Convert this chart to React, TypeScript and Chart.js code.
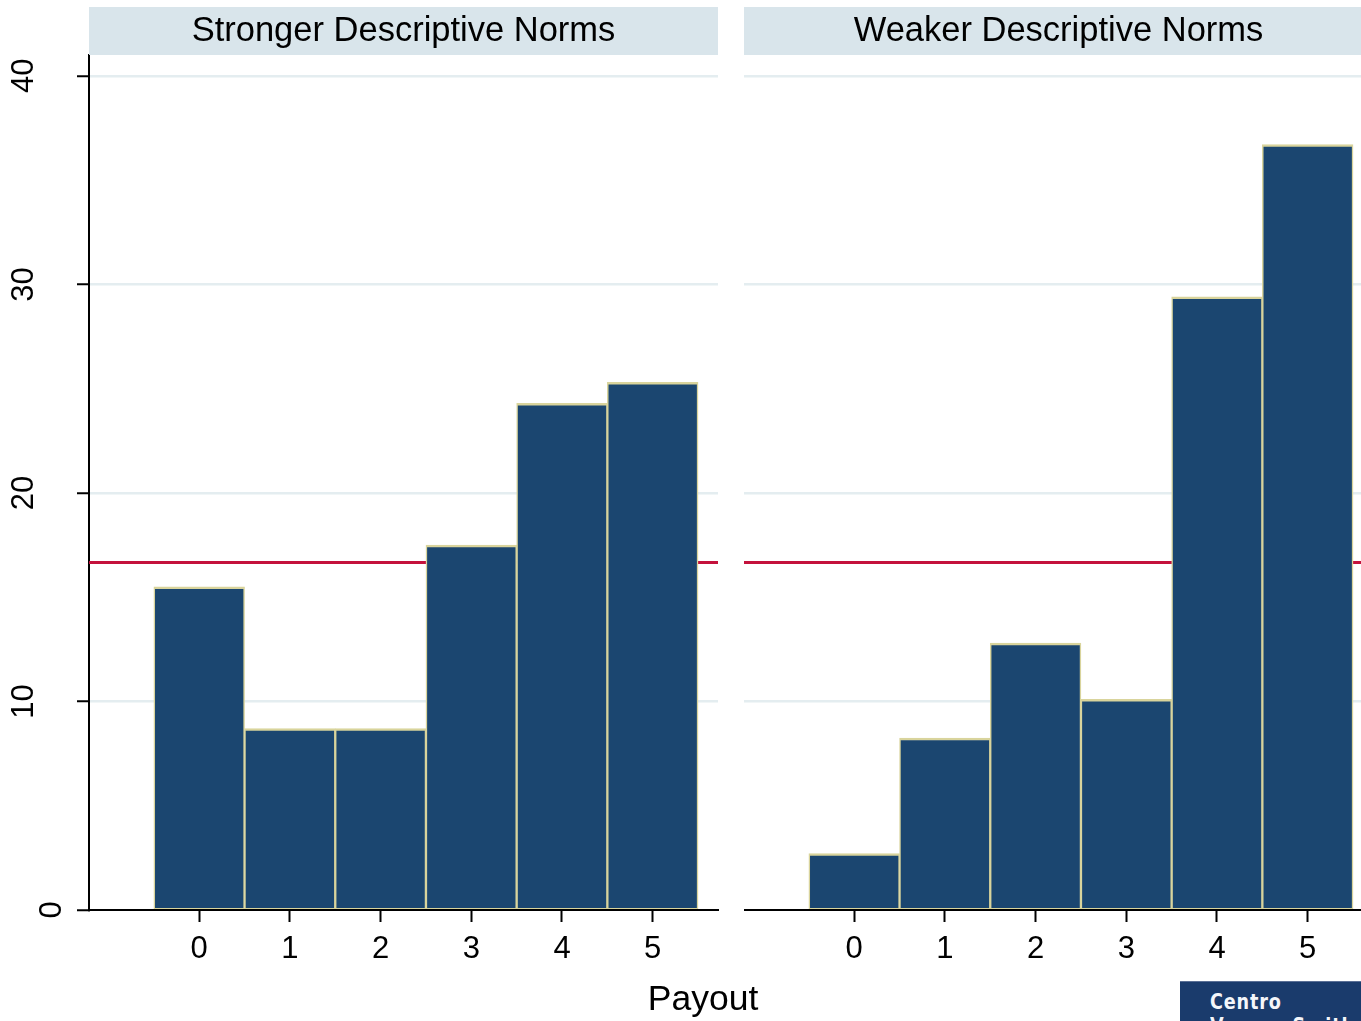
import React, { useEffect, useRef } from "react";
import { Chart, registerables } from "chart.js";

Chart.register(...registerables);

// ---- data ----
const payoutCategories = [0, 1, 2, 3, 4, 5];
const strongerNormsPercent = [15.5, 8.7, 8.7, 17.5, 24.3, 25.3];
const weakerNormsPercent = [2.7, 8.25, 12.8, 10.1, 29.4, 36.7];
const uniformReferencePercent = 100 / 6;
const yTickValues = [0, 10, 20, 30, 40];
const panelTitles = ["Stronger Descriptive Norms", "Weaker Descriptive Norms"];
const xAxisTitle = "Payout";
const logoLines = ["Centro", "Vernon Smith"];

// ---- axis ranges ----
const X_MIN = -1.215;
const X_MAX = 5.72;
const Y_MAX = 41;

const FONT = "'Liberation Sans', Arial, Helvetica, sans-serif";
const NAVY = "#1b4670";
const KHAKI = "#d9d49c";
const GRID = "#e4edf0";
const RED = "#c4123c";

function buildConfig(values: number[], showYAxis: boolean): any {
  return {
    type: "bar",
    data: {
      datasets: [
        {
          type: "bar",
          data: payoutCategories.map((c, i) => ({ x: c, y: values[i] })),
          backgroundColor: NAVY,
          borderColor: KHAKI,
          borderWidth: { top: 2.5, left: 1.5, right: 1.5, bottom: 1 },
          borderSkipped: false,
          barPercentage: 1,
          categoryPercentage: 1,
          order: 1,
        },
        {
          type: "line",
          data: [
            { x: X_MIN, y: uniformReferencePercent },
            { x: X_MAX, y: uniformReferencePercent },
          ],
          borderColor: RED,
          borderWidth: 3,
          pointRadius: 0,
          fill: false,
          order: 2,
        },
      ],
    },
    options: {
      animation: false,
      responsive: false,
      maintainAspectRatio: false,
      events: [],
      layout: { padding: { top: 55, right: 2, left: 0, bottom: 0 } },
      plugins: {
        legend: { display: false },
        tooltip: { enabled: false },
        title: { display: false },
      },
      scales: {
        x: {
          type: "linear",
          min: X_MIN,
          max: X_MAX,
          offset: false,
          afterBuildTicks: (s: any) => {
            s.ticks = payoutCategories.map((v) => ({ value: v }));
          },
          afterFit: (s: any) => {
            s.height = 111;
            s.paddingLeft = 0;
            s.paddingRight = 0;
          },
          ticks: {
            font: { family: FONT, size: 31 },
            color: "#000",
            padding: 9,
            autoSkip: false,
            maxRotation: 0,
            minRotation: 0,
            callback: (v: any) => String(v),
          },
          grid: {
            display: true,
            drawOnChartArea: false,
            drawTicks: true,
            tickLength: 12,
            tickColor: "#000",
            tickWidth: 2,
            offset: false,
          },
          border: { display: true, color: "#000", width: 2 },
        },
        y: {
          type: "linear",
          min: 0,
          max: Y_MAX,
          afterBuildTicks: (s: any) => {
            s.ticks = yTickValues.map((v) => ({ value: v }));
          },
          afterFit: (s: any) => {
            s.width = showYAxis ? 89 : 0;
            s.paddingTop = 0;
            s.paddingBottom = 0;
          },
          ticks: showYAxis
            ? {
                display: true,
                font: { family: FONT, size: 31, lineHeight: 1.8 },
                color: "#000",
                minRotation: 90,
                maxRotation: 90,
                crossAlign: "center",
                padding: 35,
                autoSkip: false,
                callback: (v: any) => (v === 0 ? ["", "0"] : String(v)),
              }
            : { display: false },
          grid: {
            display: true,
            drawOnChartArea: true,
            drawTicks: showYAxis,
            tickLength: 12,
            tickColor: "#000",
            tickWidth: 2,
            lineWidth: 2.5,
            color: (ctx: any) =>
              ctx.tick && ctx.tick.value === 0 ? "rgba(0,0,0,0)" : GRID,
          },
          border: { display: showYAxis, color: "#000", width: 2 },
        },
      },
    },
  };
}

function Panel(props: { values: number[]; showY: boolean; left: number; width: number }) {
  const ref = useRef<HTMLCanvasElement | null>(null);
  useEffect(() => {
    if (!ref.current) return;
    const chart = new Chart(ref.current, buildConfig(props.values, props.showY));
    return () => chart.destroy();
  }, []);
  return (
    <canvas
      ref={ref}
      width={props.width}
      height={1021}
      style={{
        position: "absolute",
        left: props.left,
        top: 0,
        width: props.width,
        height: 1021,
        display: "block",
      }}
    />
  );
}

const stripStyle = (left: number): React.CSSProperties => ({
  position: "absolute",
  left,
  top: 7,
  width: 629,
  height: 48,
  background: "#d9e5eb",
});

const stripText: React.CSSProperties = {
  position: "absolute",
  left: 0,
  top: 5,
  width: "100%",
  textAlign: "center",
  fontFamily: FONT,
  fontSize: 34.5,
  lineHeight: "34px",
  color: "#000",
  whiteSpace: "nowrap",
};

export default function App() {
  return (
    <div
      style={{
        position: "absolute",
        left: 0,
        top: 0,
        width: 1361,
        height: 1021,
        overflow: "hidden",
        background: "#fff",
      }}
    >
      <Panel values={strongerNormsPercent} showY={true} left={0} width={720} />
      <Panel values={weakerNormsPercent} showY={false} left={744} width={631} />
      <div style={stripStyle(89)}>
        <div style={stripText}>{panelTitles[0]}</div>
      </div>
      <div style={stripStyle(744)}>
        <div style={stripText}>{panelTitles[1]}</div>
      </div>
      <div
        style={{
          position: "absolute",
          left: 553,
          top: 981,
          width: 300,
          textAlign: "center",
          fontFamily: FONT,
          fontSize: 35.5,
          lineHeight: "35px",
          color: "#000",
        }}
      >
        {xAxisTitle}
      </div>
      <div
        style={{
          position: "absolute",
          left: 1180,
          top: 981,
          width: 200,
          height: 60,
          background: "#1a3b6c",
          borderTop: "1px solid #5a6f95",
          overflow: "hidden",
        }}
      >
        <div
          style={{
            position: "absolute",
            left: 30,
            top: 8,
            fontFamily: "'DejaVu Sans', sans-serif",
            fontWeight: "bold",
            fontSize: 21,
            lineHeight: "24px",
            letterSpacing: 1,
            color: "#f4f6fa",
            whiteSpace: "nowrap",
            transform: "scaleX(0.84)",
            transformOrigin: "left top",
          }}
        >
          <div>{logoLines[0]}</div>
          <div>{logoLines[1]}</div>
        </div>
      </div>
    </div>
  );
}
